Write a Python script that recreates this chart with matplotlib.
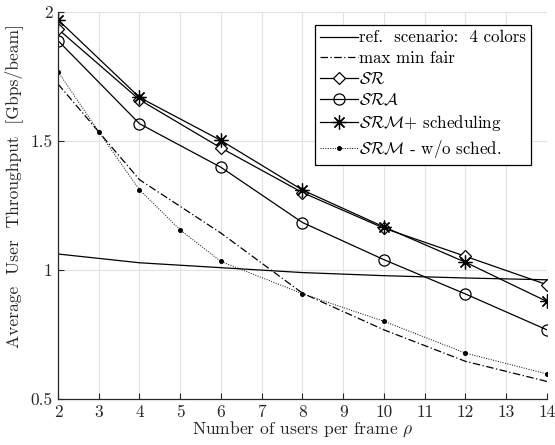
import matplotlib
matplotlib.use("Agg")
import matplotlib.pyplot as plt

plt.rcParams["font.family"] = "serif"
plt.rcParams["font.serif"] = ["cmr10", "DejaVu Serif"]
plt.rcParams["mathtext.fontset"] = "cm"
plt.rcParams["axes.formatter.use_mathtext"] = True
plt.rcParams["axes.unicode_minus"] = False

# Number of users per frame
users = [2, 4, 6, 8, 10, 12, 14]
users_nosched = [2, 3, 4, 5, 6, 8, 10, 12, 14]

# Average user throughput [Gbps/beam]
ref_4colors = [1.062, 1.028, 1.009, 0.990, 0.978, 0.969, 0.962]
max_min_fair = [1.721, 1.350, 1.143, 0.910, 0.768, 0.646, 0.568]
sr = [1.934, 1.660, 1.473, 1.300, 1.162, 1.053, 0.943]
sra = [1.889, 1.567, 1.398, 1.184, 1.040, 0.907, 0.768]
srm_sched = [1.970, 1.669, 1.502, 1.310, 1.167, 1.030, 0.878]
srm_nosched = [1.769, 1.536, 1.311, 1.155, 1.033, 0.908, 0.801, 0.678, 0.597]

x_ticks = list(range(2, 15))
y_ticks = [0.5, 1.0, 1.5, 2.0]
y_tick_labels = ["0.5", "1", "1.5", "2"]

fig = plt.figure(figsize=(5.55, 4.45), dpi=100)
ax = fig.add_axes([0.1045, 0.1034, 0.881, 0.8696])

ink = "#262626"
lw = 0.9
ax.plot(users, ref_4colors, "-", color="black", lw=lw, label="ref.  scenario:  4 colors")
ax.plot(users, max_min_fair, color="black", lw=lw, linestyle=(0, (6, 2, 1, 2)),
        label="max min fair")
ax.plot(users, sr, "-", color="black", lw=lw, marker="D", ms=6.2, mfc="white",
        mew=0.9, label=r"$\mathcal{SR}$")
ax.plot(users, sra, "-", color="black", lw=lw, marker="o", ms=8, mfc="none",
        mew=0.9, label=r"$\mathcal{SRA}$")
ax.plot(users, srm_sched, "-", color="black", lw=lw, marker=(8, 2, 0), ms=10,
        mew=0.9, label=r"$\mathcal{SRM}$+ scheduling")
ax.plot(users_nosched, srm_nosched, color="black", lw=0.7, linestyle=(0, (1, 1.5)),
        marker="o", ms=2.6, label=r"$\mathcal{SRM}$ - w/o sched.")

ax.set_xlim(2, 14)
ax.set_ylim(0.5, 2.0)
ax.set_xticks(x_ticks)
ax.set_xticklabels([str(t) for t in x_ticks])
ax.set_yticks(y_ticks)
ax.set_yticklabels(y_tick_labels)
ax.grid(True, color="#e2e2e2", lw=0.8)
ax.set_axisbelow(True)
for side in ("top", "right"):
    ax.spines[side].set_visible(False)
for side in ("left", "bottom"):
    ax.spines[side].set_color(ink)
    ax.spines[side].set_linewidth(0.9)
ax.tick_params(direction="in", length=4, width=0.8, color=ink,
               labelsize=12.5, labelcolor=ink, pad=4)

ax.set_xlabel(r"Number of users per frame $\rho$", fontsize=12.6, color=ink, labelpad=0)
ax.set_ylabel("Average  User  Throughput  [Gbps/beam]", fontsize=12.6, color=ink)
ax.yaxis.set_label_coords(-0.072, 0.55)

leg = ax.legend(loc="upper right", bbox_to_anchor=(0.975, 0.975), fontsize=12.2,
                frameon=True, fancybox=False, framealpha=1, edgecolor="black",
                handlelength=2.2, handletextpad=0.1, labelspacing=0.3,
                borderpad=0.3, borderaxespad=0.2)
leg.get_frame().set_linewidth(0.9)

fig.savefig("out.png", dpi=100)
